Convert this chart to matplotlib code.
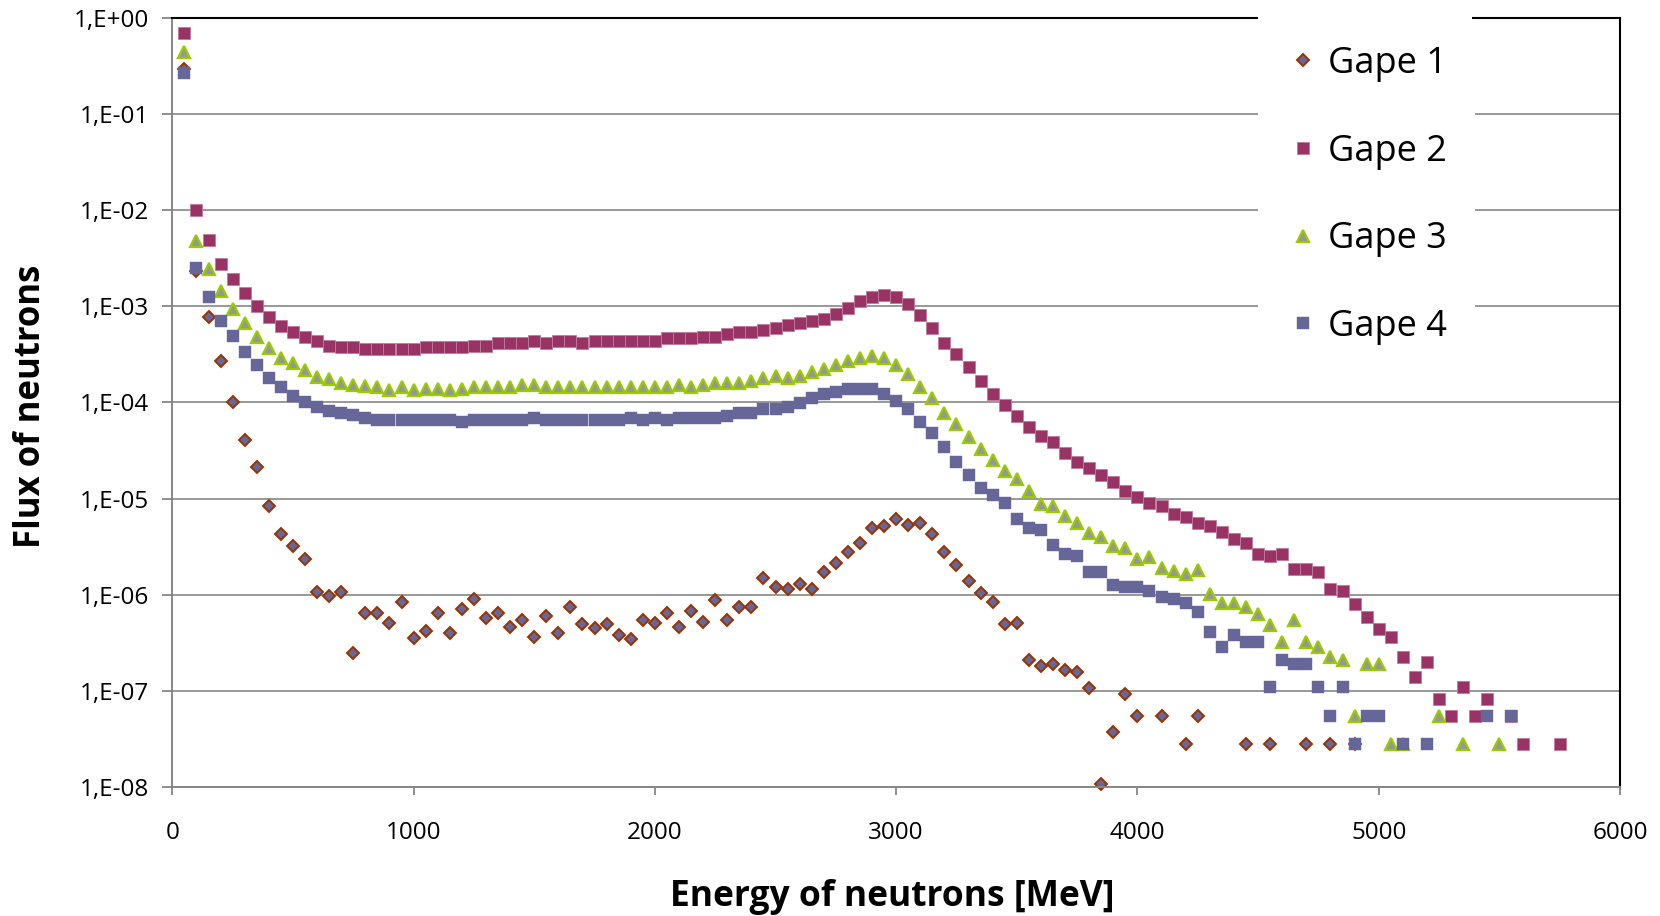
import numpy as np
import matplotlib
matplotlib.use("Agg")
import matplotlib.pyplot as plt
from matplotlib.patches import Rectangle

plt.rcParams['font.family'] = ['Open Sans', 'DejaVu Sans']

nan = np.nan

# energy grid (MeV), one point every 50 MeV
energy = [
    50, 100, 150, 200, 250, 300, 350, 400, 450, 500,
    550, 600, 650, 700, 750, 800, 850, 900, 950, 1000,
    1050, 1100, 1150, 1200, 1250, 1300, 1350, 1400, 1450, 1500,
    1550, 1600, 1650, 1700, 1750, 1800, 1850, 1900, 1950, 2000,
    2050, 2100, 2150, 2200, 2250, 2300, 2350, 2400, 2450, 2500,
    2550, 2600, 2650, 2700, 2750, 2800, 2850, 2900, 2950, 3000,
    3050, 3100, 3150, 3200, 3250, 3300, 3350, 3400, 3450, 3500,
    3550, 3600, 3650, 3700, 3750, 3800, 3850, 3900, 3950, 4000,
    4050, 4100, 4150, 4200, 4250, 4300, 4350, 4400, 4450, 4500,
    4550, 4600, 4650, 4700, 4750, 4800, 4850, 4900, 4950, 5000,
    5050, 5100, 5150, 5200, 5250, 5300, 5350, 5400, 5450, 5500,
    5550, 5600, 5650, 5700, 5750,
]

gape1 = [
    0.30, 2.36e-3, 7.8e-4, 2.7e-4, 1.0e-4, 4.07e-5, 2.15e-5, 8.4e-6, 4.24e-6, 3.23e-6,
    2.34e-6, 1.07e-6, 9.7e-7, 1.07e-6, 2.45e-7, 6.4e-7, 6.4e-7, 5.1e-7, 8.3e-7, 3.56e-7,
    4.2e-7, 6.4e-7, 3.95e-7, 7.1e-7, 9.1e-7, 5.75e-7, 6.4e-7, 4.6e-7, 5.4e-7, 3.6e-7,
    6.0e-7, 3.95e-7, 7.5e-7, 4.9e-7, 4.45e-7, 4.9e-7, 3.8e-7, 3.42e-7, 5.4e-7, 5.1e-7,
    6.4e-7, 4.6e-7, 6.7e-7, 5.2e-7, 8.8e-7, 5.5e-7, 7.5e-7, 7.5e-7, 1.48e-6, 1.21e-6,
    1.14e-6, 1.28e-6, 1.14e-6, 1.73e-6, 2.12e-6, 2.76e-6, 3.42e-6, 4.98e-6, 5.2e-6, 6.1e-6,
    5.3e-6, 5.6e-6, 4.24e-6, 2.8e-6, 2.03e-6, 1.4e-6, 1.03e-6, 8.4e-7, 4.94e-7, 5.1e-7,
    2.1e-7, 1.82e-7, 1.9e-7, 1.64e-7, 1.56e-7, 1.06e-7, 1.07e-8, 3.74e-8, 9.2e-8, 5.4e-8,
    nan, 5.4e-8, nan, 2.75e-8, 5.4e-8, nan, nan, nan, 2.75e-8, nan,
    2.75e-8, nan, nan, 2.75e-8, nan, 2.75e-8, nan, 2.75e-8, nan, nan,
    nan, nan, nan, nan, nan, nan, nan, nan, nan, nan,
    nan, nan, nan, nan, nan,
]

gape2 = [
    0.70, 1.0e-2, 4.9e-3, 2.75e-3, 1.92e-3, 1.39e-3, 1.01e-3, 7.8e-4, 6.3e-4, 5.4e-4,
    4.8e-4, 4.4e-4, 3.9e-4, 3.76e-4, 3.76e-4, 3.58e-4, 3.58e-4, 3.58e-4, 3.58e-4, 3.58e-4,
    3.76e-4, 3.76e-4, 3.76e-4, 3.76e-4, 3.9e-4, 3.9e-4, 4.13e-4, 4.13e-4, 4.13e-4, 4.4e-4,
    4.13e-4, 4.4e-4, 4.4e-4, 4.13e-4, 4.4e-4, 4.4e-4, 4.4e-4, 4.4e-4, 4.4e-4, 4.4e-4,
    4.66e-4, 4.66e-4, 4.66e-4, 4.84e-4, 4.84e-4, 5.16e-4, 5.42e-4, 5.42e-4, 5.69e-4, 6.0e-4,
    6.37e-4, 6.68e-4, 7.06e-4, 7.47e-4, 8.3e-4, 9.57e-4, 1.15e-3, 1.26e-3, 1.31e-3, 1.25e-3,
    1.07e-3, 8.2e-4, 6.0e-4, 4.13e-4, 3.18e-4, 2.32e-4, 1.69e-4, 1.23e-4, 9.5e-5, 7.3e-5,
    5.6e-5, 4.5e-5, 3.85e-5, 2.98e-5, 2.4e-5, 2.06e-5, 1.76e-5, 1.5e-5, 1.21e-5, 1.04e-5,
    8.9e-6, 8.4e-6, 6.85e-6, 6.5e-6, 5.6e-6, 5.2e-6, 4.5e-6, 3.8e-6, 3.45e-6, 2.65e-6,
    2.52e-6, 2.65e-6, 1.83e-6, 1.83e-6, 1.73e-6, 1.14e-6, 1.09e-6, 7.9e-7, 5.8e-7, 4.4e-7,
    3.6e-7, 2.22e-7, 1.39e-7, 2.0e-7, 8.2e-8, 5.5e-8, 1.1e-7, 5.5e-8, 8.2e-8, nan,
    5.5e-8, 2.75e-8, nan, nan, 2.75e-8,
]

gape3 = [
    0.45, 4.8e-3, 2.44e-3, 1.45e-3, 9.3e-4, 6.7e-4, 4.78e-4, 3.67e-4, 2.93e-4, 2.56e-4,
    2.18e-4, 1.86e-4, 1.74e-4, 1.58e-4, 1.52e-4, 1.5e-4, 1.44e-4, 1.35e-4, 1.44e-4, 1.35e-4,
    1.37e-4, 1.37e-4, 1.35e-4, 1.37e-4, 1.44e-4, 1.44e-4, 1.44e-4, 1.44e-4, 1.52e-4, 1.52e-4,
    1.45e-4, 1.45e-4, 1.45e-4, 1.45e-4, 1.45e-4, 1.45e-4, 1.45e-4, 1.45e-4, 1.45e-4, 1.45e-4,
    1.46e-4, 1.52e-4, 1.46e-4, 1.52e-4, 1.61e-4, 1.61e-4, 1.61e-4, 1.69e-4, 1.79e-4, 1.89e-4,
    1.79e-4, 1.89e-4, 2.09e-4, 2.21e-4, 2.45e-4, 2.72e-4, 2.88e-4, 3.05e-4, 2.88e-4, 2.45e-4,
    1.98e-4, 1.46e-4, 1.11e-4, 7.7e-5, 5.9e-5, 4.34e-5, 3.26e-5, 2.52e-5, 1.95e-5, 1.58e-5,
    1.21e-5, 8.7e-6, 8.4e-6, 6.6e-6, 5.5e-6, 4.4e-6, 3.97e-6, 3.2e-6, 3.06e-6, 2.36e-6,
    2.48e-6, 1.9e-6, 1.75e-6, 1.63e-6, 1.82e-6, 1.02e-6, 8.15e-7, 8.15e-7, 7.4e-7, 6.3e-7,
    4.8e-7, 3.18e-7, 5.4e-7, 3.18e-7, 2.87e-7, 2.22e-7, 2.1e-7, 5.5e-8, 1.89e-7, 1.89e-7,
    2.75e-8, 2.75e-8, nan, nan, 5.5e-8, nan, 2.75e-8, nan, nan, 2.75e-8,
    nan, nan, nan, nan, nan,
]

gape4 = [
    0.27, 2.5e-3, 1.26e-3, 7.06e-4, 4.92e-4, 3.38e-4, 2.45e-4, 1.79e-4, 1.46e-4, 1.17e-4,
    1.02e-4, 8.9e-5, 8.2e-5, 7.7e-5, 7.4e-5, 6.85e-5, 6.6e-5, 6.6e-5, 6.6e-5, 6.6e-5,
    6.6e-5, 6.6e-5, 6.6e-5, 6.2e-5, 6.6e-5, 6.6e-5, 6.6e-5, 6.6e-5, 6.6e-5, 6.9e-5,
    6.6e-5, 6.6e-5, 6.6e-5, 6.6e-5, 6.6e-5, 6.6e-5, 6.6e-5, 6.9e-5, 6.6e-5, 6.95e-5,
    6.6e-5, 6.95e-5, 6.95e-5, 6.95e-5, 6.95e-5, 7.3e-5, 7.7e-5, 7.7e-5, 8.5e-5, 8.5e-5,
    8.9e-5, 9.96e-5, 1.11e-4, 1.22e-4, 1.30e-4, 1.37e-4, 1.37e-4, 1.37e-4, 1.22e-4, 1.04e-4,
    8.5e-5, 6.2e-5, 4.78e-5, 3.47e-5, 2.42e-5, 1.76e-5, 1.28e-5, 1.09e-5, 8.9e-6, 6.1e-6,
    4.95e-6, 4.7e-6, 3.28e-6, 2.63e-6, 2.52e-6, 1.73e-6, 1.73e-6, 1.26e-6, 1.19e-6, 1.19e-6,
    1.1e-6, 9.5e-7, 9.1e-7, 8.1e-7, 6.65e-7, 4.1e-7, 2.87e-7, 3.8e-7, 3.2e-7, 3.2e-7,
    1.08e-7, 2.1e-7, 1.89e-7, 1.89e-7, 1.08e-7, 5.5e-8, 1.08e-7, 2.75e-8, 5.5e-8, 5.5e-8,
    nan, 2.75e-8, nan, 2.75e-8, nan, nan, nan, nan, 5.5e-8, nan,
    5.5e-8, nan, nan, nan, nan,
]

series_names = ['Gape 1', 'Gape 2', 'Gape 3', 'Gape 4']
y_ticks = [1e0, 1e-1, 1e-2, 1e-3, 1e-4, 1e-5, 1e-6, 1e-7, 1e-8]
y_tick_labels = ['1,E+00', '1,E-01', '1,E-02', '1,E-03', '1,E-04',
                 '1,E-05', '1,E-06', '1,E-07', '1,E-08']
x_ticks = [0, 1000, 2000, 3000, 4000, 5000, 6000]

grey = '#868686'
W, H = 1660, 916

fig = plt.figure(figsize=(16.6, 9.16), dpi=100)
ax = fig.add_axes([0.1038, 0.1412, 0.8721, 0.8388])

ax.plot(energy, gape1, linestyle='none', marker='D', ms=6.6, mfc='#666699',
        mec='#993300', mew=1.4, label=series_names[0], clip_on=False)
ax.plot(energy, gape2, linestyle='none', marker='s', ms=9, mfc='#993366',
        mec='#c27a9c', mew=0.6, label=series_names[1], clip_on=False)
ax.plot(energy, gape3, linestyle='none', marker='^', ms=9, mfc='#969696',
        mec='#99cc00', mew=1.6, label=series_names[2], clip_on=False)
ax.plot(energy, gape4, linestyle='none', marker='s', ms=8, mfc='#666699',
        mec='#666699', mew=0.3, label=series_names[3], clip_on=False)

ax.set_yscale('log')
ax.set_ylim(1e-8, 1)
ax.set_xlim(0, 6000)
ax.set_yticks(y_ticks)
ax.set_yticklabels(y_tick_labels)
ax.set_xticks(x_ticks)
ax.set_xticklabels([str(v) for v in x_ticks])
ax.yaxis.set_minor_locator(matplotlib.ticker.NullLocator())

ax.tick_params(axis='both', direction='out', color=grey, width=1.3,
               labelsize=17.5, labelcolor='black')
ax.tick_params(axis='y', length=7, pad=10)
ax.tick_params(axis='x', length=6, pad=18.5)

ax.yaxis.grid(True, color=grey, linewidth=1.2)
ax.set_axisbelow(True)

for side in ['left', 'bottom']:
    ax.spines[side].set_color(grey)
    ax.spines[side].set_linewidth(1.4)
for side in ['top', 'right']:
    ax.spines[side].set_color('black')
    ax.spines[side].set_linewidth(1.5)

ax.set_xlabel('Energy of neutrons [MeV]', fontsize=25.5, fontweight='bold')
ax.set_ylabel('Flux of neutrons', fontsize=25, fontweight='bold')
ax.xaxis.label.set_va('center')
ax.yaxis.label.set_va('center')
ax.yaxis.label.set_ha('center')
ax.xaxis.set_label_coords(0.497, -0.144)
ax.yaxis.set_label_coords(-0.0975, 0.4955)

leg = ax.legend(loc='upper left', bbox_to_anchor=(1258 / W, 1 - 19 / H),
                bbox_transform=fig.transFigure, borderaxespad=0, fontsize=26,
                frameon=True, framealpha=1, facecolor='white', edgecolor='white',
                fancybox=False, borderpad=0.75, handlelength=1.0,
                handletextpad=0.2, labelspacing=1.43, markerscale=1.0)
leg.get_frame().set_linewidth(0)

# white gap in the top border behind the legend
fig.add_artist(Rectangle((1258 / W, 1 - 26 / H), 214 / W, 26 / H,
                         transform=fig.transFigure, facecolor='white',
                         edgecolor='none', zorder=3))

fig.savefig('out.png', dpi=100)
plt.close(fig)
